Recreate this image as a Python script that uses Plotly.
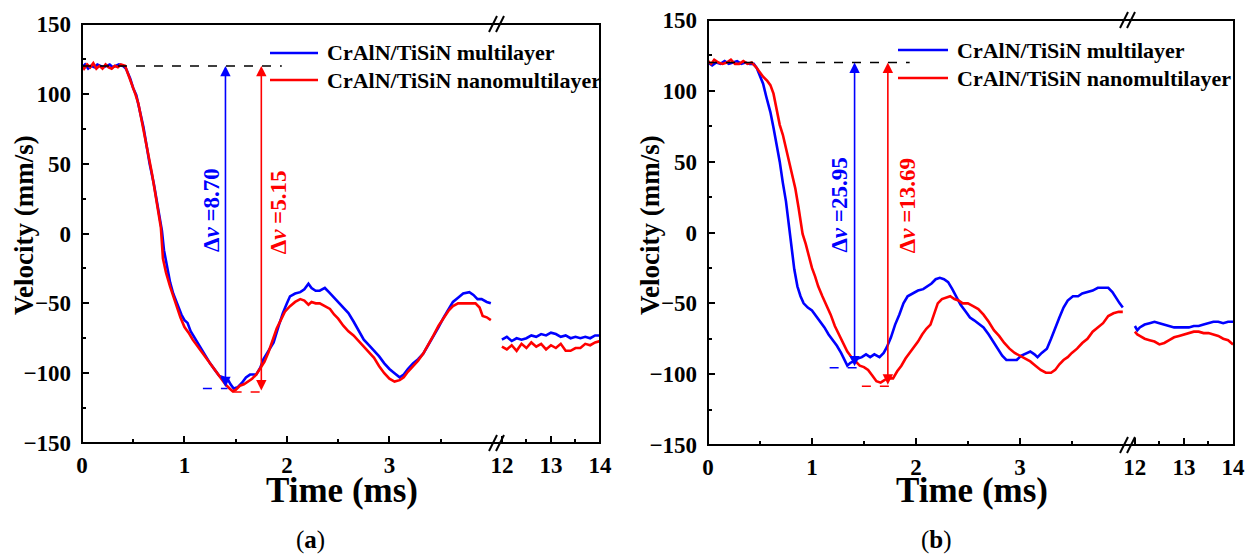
import plotly.graph_objects as go

W, H = 1252, 556

# ---------------- data ----------------
# Panel (a), 0-4 ms segment
a_multi_t = [0.00,0.03,0.06,0.09,0.12,0.15,0.18,0.21,0.24,0.27,0.30,0.33,0.36,0.40,0.43,0.47,0.50,0.53,0.56,0.60,
             0.63,0.66,0.70,0.73,0.76,0.78,0.80,0.83,0.86,0.89,0.93,0.97,1.00,1.03,1.06,1.10,1.15,1.20,1.25,1.30,
             1.34,1.38,1.42,1.45,1.48,1.52,1.56,1.60,1.64,1.70,1.74,1.77,1.82,1.87,1.92,1.96,2.00,2.03,2.08,2.13,
             2.17,2.21,2.24,2.28,2.32,2.37,2.41,2.45,2.50,2.55,2.60,2.65,2.70,2.75,2.80,2.85,2.90,2.95,3.00,3.05,
             3.10,3.14,3.18,3.23,3.28,3.33,3.38,3.43,3.48,3.53,3.58,3.62,3.67,3.72,3.78,3.82,3.86,3.90,3.95,3.99]
a_multi_v = [119,121,118,120,119,121,120,119,120,121,119,120,121,120,118,111,104,99,90,76,
             63,50,36,22,9,2,-12,-24,-35,-43,-51,-58,-62,-64,-70,-75,-81,-87,-93,-98,
             -102,-103,-104,-108,-111,-110,-107,-103,-101,-101,-96,-90,-84,-78,-66,-57,-50,-45,-43,-42,
             -40,-36,-39,-41,-41,-39,-42,-45,-49,-53,-57,-63,-70,-76,-80,-84,-88,-93,-97,-100,
             -103,-101,-97,-93,-90,-86,-80,-74,-67,-60,-54,-49,-46,-43,-42,-44,-47,-47,-49,-50]

a_nano_t = [0.00,0.02,0.05,0.08,0.11,0.14,0.17,0.20,0.23,0.26,0.29,0.32,0.35,0.38,0.42,0.45,0.49,0.52,0.55,0.58,
            0.62,0.65,0.68,0.71,0.74,0.77,0.79,0.82,0.86,0.89,0.92,0.96,1.00,1.04,1.08,1.12,1.16,1.20,1.25,1.30,
            1.35,1.40,1.44,1.47,1.50,1.54,1.58,1.62,1.66,1.70,1.74,1.78,1.82,1.86,1.90,1.94,1.98,2.03,2.08,2.13,
            2.17,2.21,2.24,2.28,2.32,2.37,2.42,2.46,2.50,2.55,2.60,2.65,2.70,2.75,2.80,2.85,2.90,2.95,3.00,3.05,
            3.10,3.14,3.18,3.23,3.28,3.33,3.38,3.43,3.48,3.53,3.58,3.62,3.67,3.72,3.78,3.84,3.88,3.91,3.95,3.99]
a_nano_v = [120,118,121,119,122,118,120,118,121,119,118,120,119,121,120,114,107,100,93,82,
            68,55,44,31,17,4,-18,-28,-38,-45,-51,-60,-67,-71,-76,-80,-84,-88,-93,-98,
            -103,-108,-111,-113,-112,-109,-108,-106,-104,-101,-96,-92,-85,-76,-68,-62,-56,-52,-49,-47,
            -48,-51,-49,-50,-50,-52,-54,-58,-61,-66,-70,-73,-77,-81,-85,-89,-95,-100,-104,-106,
            -105,-103,-99,-95,-91,-86,-80,-73,-66,-60,-55,-52,-50,-50,-50,-50,-53,-59,-60,-62]

# Panel (a), 12-14 ms segment
a_late_t = [12.0,12.1,12.2,12.3,12.4,12.5,12.6,12.7,12.8,12.9,13.0,13.1,13.2,13.3,13.4,13.5,13.6,13.7,13.8,13.9,14.0]
a_late_multi_v = [-76,-74,-77,-75,-76,-75,-73,-74,-72,-73,-71,-72,-74,-73,-75,-74,-75,-74,-75,-73,-73]
a_late_nano_v = [-81,-83,-80,-84,-79,-82,-78,-81,-79,-83,-80,-82,-79,-84,-84,-82,-82,-79,-80,-78,-77]

# Panel (b), 0-4 ms segment
b_multi_t = [0.00,0.04,0.08,0.12,0.16,0.20,0.24,0.28,0.32,0.36,0.40,0.44,0.47,0.50,0.53,0.56,0.60,0.63,0.66,0.69,
             0.72,0.75,0.77,0.79,0.81,0.83,0.86,0.89,0.92,0.96,1.00,1.04,1.08,1.12,1.16,1.20,1.24,1.28,1.31,1.34,
             1.37,1.40,1.44,1.48,1.52,1.56,1.60,1.65,1.69,1.72,1.76,1.80,1.84,1.88,1.92,1.97,2.02,2.07,2.11,2.15,
             2.19,2.23,2.27,2.31,2.35,2.39,2.43,2.48,2.52,2.56,2.60,2.65,2.70,2.75,2.79,2.83,2.87,2.92,2.97,3.01,
             3.06,3.10,3.14,3.17,3.21,3.26,3.30,3.34,3.38,3.42,3.46,3.51,3.56,3.60,3.65,3.70,3.75,3.80,3.85,3.89,
             3.93,3.96,3.99]
b_multi_v = [120,118,120,119,121,119,120,121,119,120,119,119,116,110,105,96,85,74,62,50,
             35,22,10,-1,-15,-26,-38,-45,-50,-53,-55,-59,-63,-67,-72,-76,-80,-85,-89,-94,
             -92,-91,-89,-88,-86,-88,-86,-88,-85,-81,-74,-65,-58,-50,-45,-43,-41,-40,-38,-36,
             -33,-32,-33,-35,-40,-46,-51,-56,-60,-62,-64,-67,-72,-78,-82,-87,-90,-90,-90,-87,
             -85,-84,-86,-88,-85,-82,-75,-67,-60,-53,-48,-45,-45,-43,-42,-41,-39,-39,-39,-42,
             -47,-50,-53]

b_nano_t = [0.00,0.03,0.06,0.10,0.14,0.18,0.22,0.26,0.30,0.34,0.38,0.42,0.46,0.50,0.53,0.57,0.60,0.63,0.66,0.69,
            0.72,0.75,0.78,0.81,0.84,0.87,0.89,0.91,0.94,0.97,1.00,1.03,1.06,1.10,1.14,1.18,1.22,1.26,1.30,1.34,
            1.38,1.42,1.46,1.50,1.54,1.58,1.62,1.66,1.70,1.74,1.78,1.82,1.86,1.90,1.94,1.98,2.02,2.06,2.10,2.14,
            2.18,2.21,2.25,2.29,2.33,2.37,2.41,2.45,2.50,2.55,2.60,2.65,2.70,2.75,2.80,2.85,2.90,2.95,3.00,3.05,
            3.10,3.15,3.20,3.25,3.30,3.34,3.38,3.42,3.46,3.50,3.55,3.60,3.65,3.70,3.75,3.80,3.85,3.90,3.95,3.99]
b_nano_v = [121,119,122,120,119,120,122,119,119,121,119,120,117,113,110,107,104,98,88,76,
            69,60,51,42,31,18,7,-1,-8,-17,-25,-31,-38,-45,-51,-58,-66,-72,-78,-84,
            -88,-91,-94,-95,-97,-101,-105,-106,-104,-103,-103,-98,-94,-89,-85,-81,-77,-72,-68,-65,
            -56,-50,-47,-46,-45,-47,-48,-50,-50,-52,-54,-58,-63,-69,-73,-78,-82,-85,-87,-89,
            -91,-94,-97,-99,-99,-97,-93,-90,-88,-85,-82,-78,-75,-70,-67,-64,-59,-57,-56,-56]

# Panel (b), 12-14 ms segment
b_late_t = [12.0,12.05,12.1,12.2,12.3,12.4,12.5,12.6,12.7,12.8,12.9,13.0,13.1,13.2,13.3,13.4,13.5,13.6,13.7,13.8,13.9,14.0]
b_late_multi_v = [-66,-69,-67,-65,-64,-63,-64,-65,-66,-67,-67,-67,-67,-66,-66,-65,-64,-63,-63,-64,-63,-63]
b_late_nano_v = [-70,-72,-73,-75,-76,-77,-79,-78,-76,-74,-73,-72,-71,-70,-70,-71,-71,-72,-73,-75,-76,-79]

series_names = ["CrAlN/TiSiN multilayer", "CrAlN/TiSiN nanomultilayer"]
initial_v = 120
# annotations: (arrow time, bottom velocity, label) per series
a_marks = [(1.40, -111, "8.70"), (1.75, -113.5, "5.15")]
b_marks = [(1.41, -95.5, "25.95"), (1.73, -108.5, "13.69")]
a_min_dash = [(1.18, 1.42, -111), (1.47, 1.79, -113.5)]
b_min_dash = [(1.17, 1.48, -95.5), (1.48, 1.80, -108.5)]

COLORS = ["#0000FF", "#FF0000"]
FONT = "Liberation Serif, Times New Roman, serif"

def px(x):
    return x / W

def py(y):
    return 1 - y / H

# panel geometry in pixels: left, break, right, top, bottom
panels = [
    dict(left=82, brk=497, right=600, top=24, bottom=443, r1=[0, 4.05], r2=[11.9, 14.0]),
    dict(left=708, brk=1128, right=1234, top=20, bottom=445, r1=[0, 4.04], r2=[11.86, 14.02]),
]

fig = go.Figure()

data = [
    (a_multi_t, a_multi_v, a_nano_t, a_nano_v, a_late_t, a_late_multi_v, a_late_nano_v),
    (b_multi_t, b_multi_v, b_nano_t, b_nano_v, b_late_t, b_late_multi_v, b_late_nano_v),
]

for i, d in enumerate(data):
    xa1 = "x" if i == 0 else "x3"
    xa2 = "x2" if i == 0 else "x4"
    ya = "y" if i == 0 else "y2"
    mt, mv, nt, nv, lt, lmv, lnv = d
    for t, v, c, name in [(mt, mv, COLORS[0], series_names[0]), (nt, nv, COLORS[1], series_names[1])]:
        fig.add_trace(go.Scatter(x=t, y=v, mode="lines", line=dict(color=c, width=2.6),
                                 xaxis=xa1, yaxis=ya, showlegend=False, name=name))
    for v, c, name in [(lmv, COLORS[0], series_names[0]), (lnv, COLORS[1], series_names[1])]:
        fig.add_trace(go.Scatter(x=lt, y=v, mode="lines", line=dict(color=c, width=2.6),
                                 xaxis=xa2, yaxis=ya, showlegend=False, name=name))

tickfont = dict(family=FONT, size=23, color="black", weight="bold")

layout = dict(width=W, height=H, autosize=False, margin=dict(l=0, r=0, t=0, b=0, pad=0),
              paper_bgcolor="white", plot_bgcolor="white", showlegend=False)

for i, p in enumerate(panels):
    n1 = "xaxis" if i == 0 else "xaxis3"
    n2 = "xaxis2" if i == 0 else "xaxis4"
    ny = "yaxis" if i == 0 else "yaxis2"
    yref = "y" if i == 0 else "y2"
    layout[n1] = dict(domain=[px(p["left"]), px(p["brk"])], range=p["r1"], anchor=yref, automargin=False,
                      tickvals=[0, 1, 2, 3], ticks="inside", ticklen=7, tickwidth=2, tickcolor="black",
                      minor=dict(tickvals=[0.5, 1.5, 2.5, 3.5], ticks="inside", ticklen=4, tickwidth=2, tickcolor="black"),
                      showgrid=False, zeroline=False, showline=False, tickfont=tickfont, ticklabelstandoff=6)
    layout[n2] = dict(domain=[px(p["brk"]), px(p["right"])], range=p["r2"], anchor=yref, automargin=False,
                      tickvals=[12, 13, 14], ticks="inside", ticklen=7, tickwidth=2, tickcolor="black",
                      minor=dict(tickvals=[12.5, 13.5], ticks="inside", ticklen=4, tickwidth=2, tickcolor="black"),
                      showgrid=False, zeroline=False, showline=False, tickfont=tickfont, ticklabelstandoff=6)
    layout[ny] = dict(domain=[py(p["bottom"]), py(p["top"])], range=[-150, 150], automargin=False,
                      anchor="x" if i == 0 else "x3",
                      tickvals=[-150, -100, -50, 0, 50, 100, 150], ticks="inside", ticklen=7, tickwidth=2,
                      tickcolor="black",
                      minor=dict(tickvals=[-125, -75, -25, 25, 75, 125], ticks="inside", ticklen=4, tickwidth=2,
                                 tickcolor="black"),
                      showgrid=False, zeroline=False, showline=False, tickfont=tickfont, ticklabelstandoff=10)

fig.update_layout(**layout)

shapes = []
annotations = []
panel_marks = [a_marks, b_marks]
panel_dash = [a_min_dash, b_min_dash]
legend_pos = [(270, 318, 325, 53, 80), (898, 948, 955, 50, 78)]
ytitle_x = [24, 650]
xtitle_x = [342, 972]
sub_label = ["a", "b"]
sub_x = [310, 936]
dash_end = [1.95, 1.94]
label_pos = [[(1.27, 17), (1.92, 15)], [(1.27, 19), (1.92, 19)]]

for i, p in enumerate(panels):
    xr = "x" if i == 0 else "x3"
    yr = "y" if i == 0 else "y2"
    # frame
    shapes.append(dict(type="rect", xref="paper", yref="paper", x0=px(p["left"]), x1=px(p["right"]),
                       y0=py(p["bottom"]), y1=py(p["top"]), line=dict(color="black", width=2), layer="above"))
    # break marks
    for yy in (p["top"], p["bottom"]):
        for off in (-4, 3):
            bx = p["brk"] + off
            shapes.append(dict(type="line", xref="paper", yref="paper", x0=px(bx - 4), x1=px(bx + 4),
                               y0=py(yy + 8), y1=py(yy - 8), line=dict(color="black", width=2)))
    # initial velocity dashed line
    shapes.append(dict(type="line", xref=xr, yref=yr, x0=0, x1=dash_end[i], y0=initial_v, y1=initial_v,
                       line=dict(color="black", width=1.5, dash="dash")))
    # min dashed lines
    for (x0, x1, yv), c in zip(panel_dash[i], COLORS):
        shapes.append(dict(type="line", xref=xr, yref=yr, x0=x0, x1=x1, y0=yv, y1=yv,
                           line=dict(color=c, width=1.5, dash="dash")))
    # arrows and labels
    for (xt, yb, lab), c, (lx, ly) in zip(panel_marks[i], COLORS, label_pos[i]):
        annotations.append(dict(x=xt, y=initial_v, ax=xt, ay=yb, xref=xr, yref=yr, axref=xr, ayref=yr,
                                text="", showarrow=True, arrowhead=2, arrowside="end+start",
                                arrowsize=1.3, arrowwidth=1.6, arrowcolor=c))
        annotations.append(dict(x=lx, y=ly, xref=xr, yref=yr, text="Δ<i>v</i> =" + lab, showarrow=False,
                                textangle=-90, xanchor="center", yanchor="middle",
                                font=dict(family=FONT, size=23, color=c, weight="bold")))
    # legend
    lx0, lx1, tx, y1, y2 = legend_pos[i]
    for yy, c, name in zip((y1, y2), COLORS, series_names):
        shapes.append(dict(type="line", xref="paper", yref="paper", x0=px(lx0), x1=px(lx1), y0=py(yy), y1=py(yy),
                           line=dict(color=c, width=2.6)))
        annotations.append(dict(x=px(tx), y=py(yy), xref="paper", yref="paper", text=name, showarrow=False,
                                xanchor="left", yanchor="middle",
                                font=dict(family=FONT, size=22, color="black", weight="bold")))
    # axis titles
    annotations.append(dict(x=px(ytitle_x[i]), y=py(225), xref="paper", yref="paper", text="Velocity (mm/s)",
                            showarrow=False, textangle=-90, xanchor="center", yanchor="middle",
                            font=dict(family=FONT, size=27, color="black", weight="bold")))
    annotations.append(dict(x=px(xtitle_x[i]), y=py(490), xref="paper", yref="paper", text="Time (ms)",
                            showarrow=False, xanchor="center", yanchor="middle",
                            font=dict(family=FONT, size=35, color="black", weight="bold")))
    annotations.append(dict(x=px(sub_x[i]), y=py(540), xref="paper", yref="paper",
                            text="(<b>" + sub_label[i] + "</b>)", showarrow=False,
                            xanchor="center", yanchor="middle",
                            font=dict(family=FONT, size=25, color="black")))

fig.update_layout(shapes=shapes, annotations=annotations)
fig.write_html("out.html", config={"displayModeBar": False},
               post_script="document.body.style.margin='0px';document.body.style.padding='0px';")
